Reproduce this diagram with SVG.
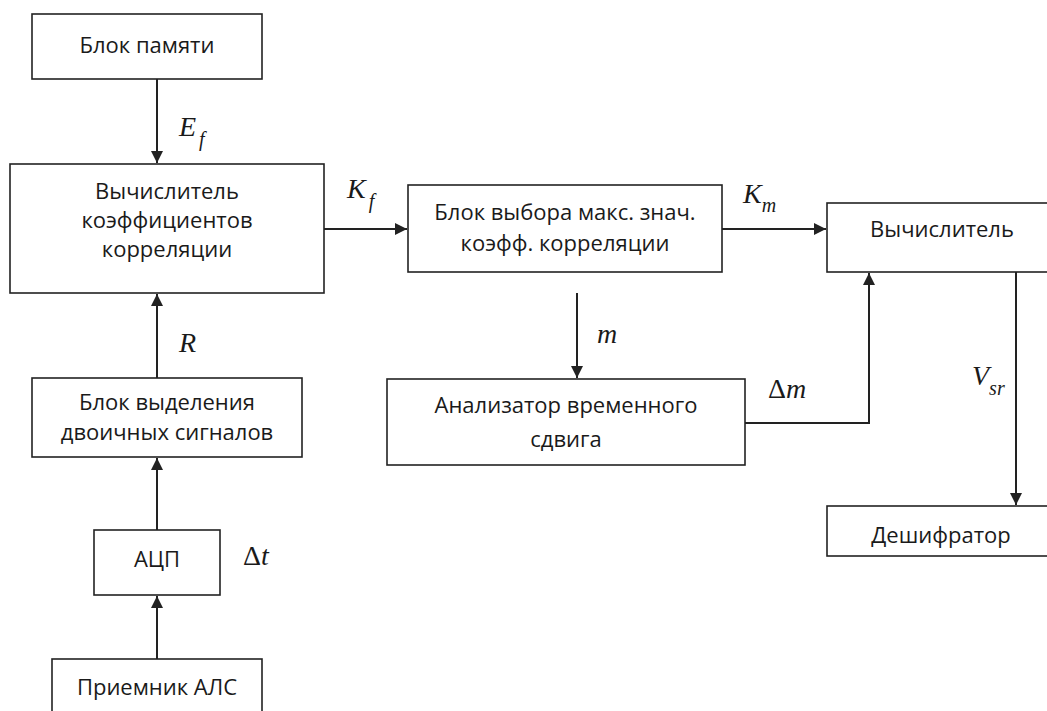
<svg xmlns="http://www.w3.org/2000/svg" width="1047" height="711" viewBox="0 0 1047 711">
<style>
.box{fill:#fff;stroke:#222;stroke-width:1.6}
.t{font-family:"Open Sans","Noto Sans",sans-serif;font-size:22px;fill:#1a1a1a;text-anchor:middle}
.m{font-family:"Liberation Serif","Times New Roman",serif;font-style:italic;font-size:28px;fill:#1a1a1a}
.s{font-size:20px}
.u{font-style:normal}
.c{fill:none;stroke:#222;stroke-width:2}
</style>
<defs>
<marker id="ah" markerUnits="userSpaceOnUse" markerWidth="13" markerHeight="12" refX="12" refY="6" orient="auto">
<path d="M0,0 L12,6 L0,12 z" fill="#222"/>
</marker>
</defs>
<rect width="1047" height="711" fill="#fff"/>
<g id="connectors">
<path class="c" d="M157,79 V163" marker-end="url(#ah)"/>
<path class="c" d="M324,229 H407" marker-end="url(#ah)"/>
<path class="c" d="M722,229 H826" marker-end="url(#ah)"/>
<path class="c" d="M577,293 V378" marker-end="url(#ah)"/>
<path class="c" d="M745,423 H869 V273" marker-end="url(#ah)"/>
<path class="c" d="M1016,272 V505" marker-end="url(#ah)"/>
<path class="c" d="M157,378 V294" marker-end="url(#ah)"/>
<path class="c" d="M157,530 V458" marker-end="url(#ah)"/>
<path class="c" d="M157,659 V596" marker-end="url(#ah)"/>
</g>
<g id="labels">
<text class="m" x="179" y="136">E<tspan class="s" dx="3" dy="10">f</tspan></text>
<text class="m" x="347" y="198">K<tspan class="s" dx="3" dy="10">f</tspan></text>
<text class="m" x="743" y="203">K<tspan class="s" dy="9">m</tspan></text>
<text class="m" x="179" y="352">R</text>
<text class="m" x="597" y="343">m</text>
<text class="m" x="768" y="398"><tspan class="u">Δ</tspan>m</text>
<text class="m" x="972" y="385">V<tspan class="s" dy="10">sr</tspan></text>
<text class="m" x="243" y="565"><tspan class="u">Δ</tspan>t</text>
</g>
<g id="n-pamyat">
<rect class="box" x="32" y="14" width="230" height="65"/>
<text class="t" x="147" y="53">Блок памяти</text>
</g>
<g id="n-vychislitel-korr">
<rect class="box" x="10" y="164" width="314" height="129"/>
<text class="t" x="167" y="199">Вычислитель</text>
<text class="t" x="167" y="228">коэффициентов</text>
<text class="t" x="167" y="257">корреляции</text>
</g>
<g id="n-vybor">
<rect class="box" x="408" y="185" width="314" height="87"/>
<text class="t" x="565" y="220">Блок выбора макс. знач.</text>
<text class="t" x="565" y="251">коэфф. корреляции</text>
</g>
<g id="n-vychislitel">
<rect class="box" x="827" y="203" width="230" height="69"/>
<text class="t" x="942" y="237">Вычислитель</text>
</g>
<g id="n-analizator">
<rect class="box" x="387" y="379" width="358" height="86"/>
<text class="t" x="566" y="413">Анализатор временного</text>
<text class="t" x="566" y="447">сдвига</text>
</g>
<g id="n-vydelenie">
<rect class="box" x="32" y="378" width="270" height="79"/>
<text class="t" x="167" y="410">Блок выделения</text>
<text class="t" x="167" y="440">двоичных сигналов</text>
</g>
<g id="n-acp">
<rect class="box" x="94" y="530" width="126" height="65"/>
<text class="t" x="157" y="567">АЦП</text>
</g>
<g id="n-priemnik">
<rect class="box" x="52" y="659" width="210" height="70"/>
<text class="t" x="157" y="695">Приемник АЛС</text>
</g>
<g id="n-deshifrator">
<rect class="box" x="827" y="506" width="230" height="50"/>
<text class="t" x="941" y="543">Дешифратор</text>
</g>
</svg>
